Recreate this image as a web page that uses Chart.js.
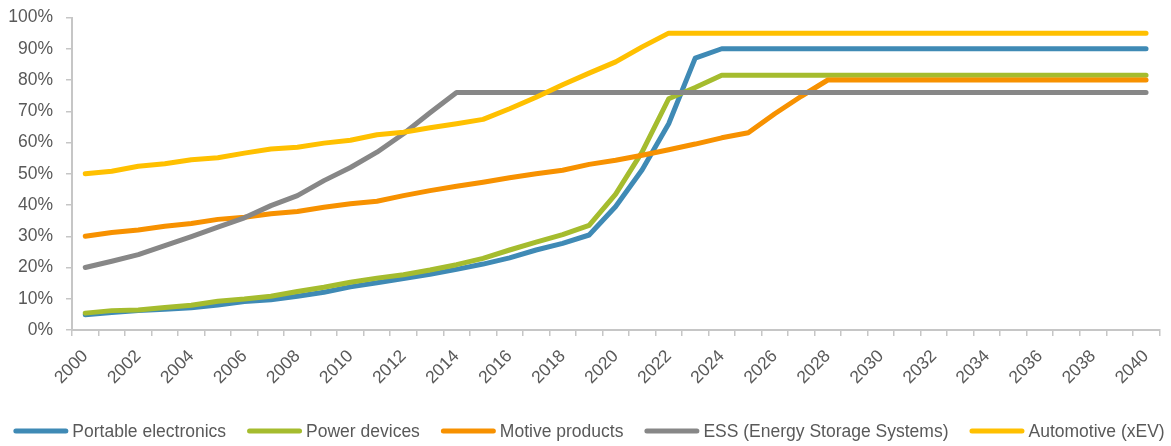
<!DOCTYPE html>
<html>
<head>
<meta charset="utf-8">
<script src="https://cdn.jsdelivr.net/npm/chart.js@4.4.1/dist/chart.umd.min.js"></script>
<style>
html,body{margin:0;padding:0;background:#ffffff;}
#c{display:block;}
</style>
</head>
<body>
<canvas id="c" width="1171" height="446"></canvas>
<script>
// ---- Data ----
const years = ['2000','2001','2002','2003','2004','2005','2006','2007','2008','2009',
  '2010','2011','2012','2013','2014','2015','2016','2017','2018','2019',
  '2020','2021','2022','2023','2024','2025','2026','2027','2028','2029',
  '2030','2031','2032','2033','2034','2035','2036','2037','2038','2039','2040'];

const seriesNames = ['Portable electronics','Power devices','Motive products','ESS (Energy Storage Systems)','Automotive (xEV)'];

const portable = [4.9, 5.6, 6.2, 6.6, 7.1, 8.0, 9.1, 9.7, 10.8, 12.1,
  13.8, 15.1, 16.5, 17.8, 19.4, 21.1, 23.1, 25.6, 27.7, 30.4,
  39.5, 51.3, 66.0, 87.0, 90, 90, 90, 90, 90, 90,
  90, 90, 90, 90, 90, 90, 90, 90, 90, 90, 90];

const power = [5.4, 6.2, 6.4, 7.2, 7.9, 9.2, 9.9, 10.8, 12.3, 13.7,
  15.3, 16.6, 17.7, 19.2, 20.9, 22.9, 25.6, 28.1, 30.5, 33.5,
  43.5, 57.0, 74.0, 77.6, 81.5, 81.5, 81.5, 81.5, 81.5, 81.5,
  81.5, 81.5, 81.5, 81.5, 81.5, 81.5, 81.5, 81.5, 81.5, 81.5, 81.5];

const motive = [30.0, 31.2, 32.0, 33.2, 34.1, 35.4, 36.1, 37.2, 37.9, 39.3,
  40.4, 41.2, 43.0, 44.6, 46.0, 47.3, 48.7, 50.0, 51.1, 53.0,
  54.3, 55.9, 57.7, 59.5, 61.5, 63.1, 69.2, 74.8, 80, 80,
  80, 80, 80, 80, 80, 80, 80, 80, 80, 80, 80];

const ess = [20.0, 22.0, 24.1, 27.0, 29.9, 32.9, 35.9, 39.8, 43.0, 47.8,
  52.0, 56.9, 62.8, 69.5, 76, 76, 76, 76, 76, 76,
  76, 76, 76, 76, 76, 76, 76, 76, 76, 76,
  76, 76, 76, 76, 76, 76, 76, 76, 76, 76, 76];

const automotive = [50.0, 50.8, 52.4, 53.2, 54.5, 55.1, 56.6, 57.9, 58.5, 59.8,
  60.7, 62.5, 63.3, 64.7, 66.0, 67.4, 70.8, 74.5, 78.5, 82.2,
  85.8, 90.6, 95, 95, 95, 95, 95, 95, 95, 95,
  95, 95, 95, 95, 95, 95, 95, 95, 95, 95, 95];

const yTicks = [0, 10, 20, 30, 40, 50, 60, 70, 80, 90, 100];

// ---- Styles ----
const colors = ['#3F8AB5', '#A5BC2E', '#F79100', '#878787', '#FFC000'];
const FONT = '"Liberation Sans", Arial, sans-serif';
const FSIZE = 17.5;
const TEXT = '#595959';
const AXIS = '#C6C6C6';

const values = [portable, power, motive, ess, automotive];
const datasets = values.map((v, i) => ({
  label: seriesNames[i],
  data: v,
  borderColor: colors[i],
  backgroundColor: colors[i],
  borderWidth: 5,
  borderCapStyle: 'round',
  borderJoinStyle: 'round',
  pointRadius: 0,
  pointHoverRadius: 0,
  tension: 0,
  fill: false,
  order: values.length - i
}));

const bottomLegend = {
  id: 'bottomLegend',
  afterDraw(chart) {
    const ctx = chart.ctx;
    ctx.save();
    ctx.font = FSIZE + 'px ' + FONT;
    const sw = 55, gapT = 4, gapI = 21, cy = 431;
    const items = chart.data.datasets.map(d => ({
      label: d.label, color: d.borderColor, w: ctx.measureText(d.label).width
    }));
    const total = items.reduce((s, it) => s + sw + gapT + it.w, 0) + gapI * (items.length - 1);
    let x = 589 - total / 2;
    items.forEach(it => {
      ctx.strokeStyle = it.color;
      ctx.lineWidth = 5;
      ctx.lineCap = 'round';
      ctx.beginPath();
      ctx.moveTo(x + 2.5, cy);
      ctx.lineTo(x + sw - 2.5, cy);
      ctx.stroke();
      x += sw + gapT;
      ctx.fillStyle = TEXT;
      ctx.textBaseline = 'middle';
      ctx.textAlign = 'left';
      ctx.fillText(it.label, x, cy + 1);
      x += it.w + gapI;
    });
    ctx.restore();
  }
};

new Chart(document.getElementById('c'), {
  type: 'line',
  data: { labels: years, datasets: datasets },
  plugins: [bottomLegend],
  options: {
    responsive: false,
    devicePixelRatio: 1,
    animation: false,
    layout: { padding: { top: 17.5, right: 8, bottom: 47, left: 0 } },
    plugins: {
      legend: { display: false },
      tooltip: { enabled: false }
    },
    scales: {
      x: {
        type: 'category',
        offset: true,
        grid: {
          offset: true,
          drawOnChartArea: false,
          drawTicks: true,
          tickLength: 6,
          color: AXIS,
          lineWidth: 1.5
        },
        border: { display: true, color: AXIS, width: 2 },
        ticks: {
          autoSkip: false,
          maxRotation: 45,
          minRotation: 45,
          padding: 10,
          labelOffset: 0,
          color: TEXT,
          font: { family: FONT, size: FSIZE },
          callback: function (val, idx) { return idx % 2 === 0 ? this.getLabelForValue(val) : ''; }
        },
        afterFit: (s) => { s.height = 69; }
      },
      y: {
        min: 0,
        max: 100,
        afterBuildTicks: (s) => { s.ticks = yTicks.map(v => ({ value: v })); },
        grid: {
          drawOnChartArea: false,
          drawTicks: true,
          tickLength: 6,
          color: AXIS,
          lineWidth: 1.5
        },
        border: { display: true, color: AXIS, width: 2 },
        ticks: {
          padding: 13,
          color: TEXT,
          font: { family: FONT, size: FSIZE },
          callback: (v) => v + '%'
        },
        afterFit: (s) => { s.width = 72; s.paddingTop = 0; s.paddingBottom = 0; }
      }
    }
  }
});
</script>
</body>
</html>
